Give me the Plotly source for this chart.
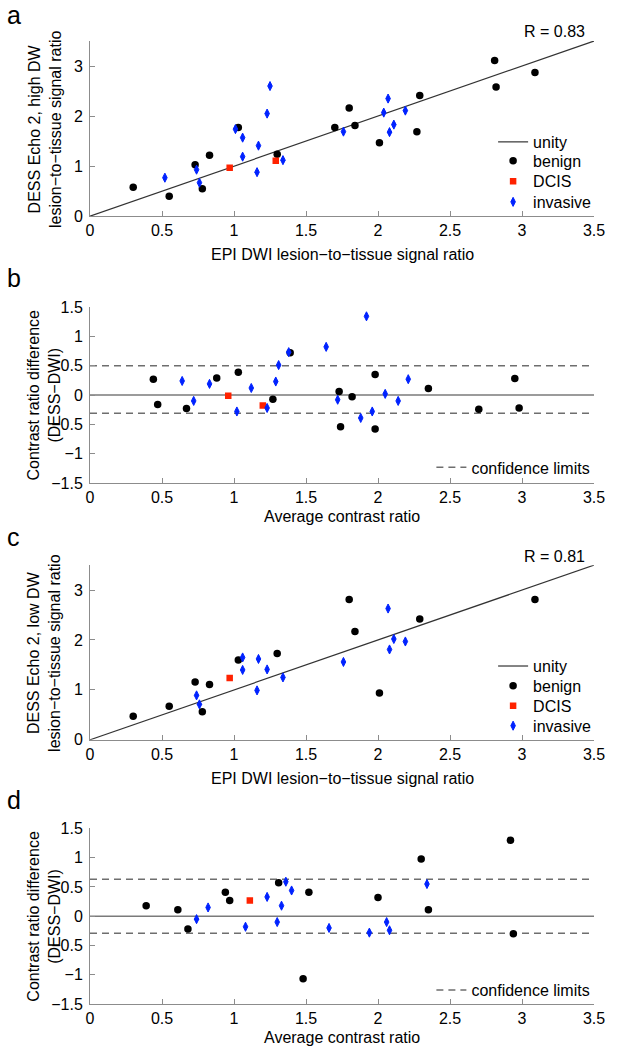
import plotly.graph_objects as go

# ---------------- data ----------------
x_ticks = [0, 0.5, 1, 1.5, 2, 2.5, 3, 3.5]

# panel a : DESS echo 2 high DW vs EPI DWI
a_benign_x = [0.30, 0.55, 0.73, 0.78, 0.83, 1.03, 1.30, 1.70, 1.80, 1.84, 2.01, 2.29, 2.27, 2.81, 2.82, 3.09]
a_benign_y = [0.58, 0.40, 1.03, 0.55, 1.22, 1.77, 1.24, 1.77, 2.16, 1.81, 1.47, 2.41, 1.69, 3.11, 2.58, 2.87]
a_dcis_x = [0.97, 1.29]
a_dcis_y = [0.97, 1.11]
a_inv_x = [0.52, 0.74, 0.76, 1.01, 1.06, 1.06, 1.17, 1.16, 1.23, 1.25, 1.34, 1.76, 2.04, 2.07, 2.08, 2.11, 2.19]
a_inv_y = [0.77, 0.93, 0.67, 1.74, 1.57, 1.19, 1.41, 0.88, 2.05, 2.60, 1.12, 1.69, 2.07, 2.35, 1.68, 1.83, 2.11]
a_r_text = "R = 0.83"

# panel b : Bland-Altman high DW
b_benign_x = [0.44, 0.47, 0.67, 0.88, 1.03, 1.27, 1.39, 1.73, 1.74, 1.82, 1.98, 1.98, 2.35, 2.70, 2.95, 2.98]
b_benign_y = [0.27, -0.16, -0.23, 0.29, 0.39, -0.07, 0.72, 0.06, -0.54, -0.03, 0.35, -0.58, 0.11, -0.24, 0.28, -0.22]
b_dcis_x = [0.96, 1.20]
b_dcis_y = [-0.01, -0.18]
b_inv_x = [0.64, 0.72, 0.83, 1.02, 1.12, 1.23, 1.29, 1.31, 1.38, 1.64, 1.72, 1.88, 1.92, 1.96, 2.05, 2.14, 2.21]
b_inv_y = [0.24, -0.10, 0.19, -0.28, 0.12, -0.22, 0.23, 0.51, 0.73, 0.82, -0.08, -0.39, 1.34, -0.28, 0.02, -0.10, 0.27]
b_limits = [0.50, -0.31]

# panel c : DESS echo 2 low DW vs EPI DWI
c_benign_x = [0.30, 0.55, 0.73, 0.78, 0.83, 1.03, 1.30, 1.80, 1.84, 2.01, 2.29, 3.09]
c_benign_y = [0.47, 0.67, 1.16, 0.56, 1.11, 1.60, 1.73, 2.81, 2.17, 0.94, 2.42, 2.81]
c_dcis_x = [0.97]
c_dcis_y = [1.24]
c_inv_x = [0.74, 0.76, 1.06, 1.06, 1.17, 1.16, 1.23, 1.34, 1.76, 2.07, 2.08, 2.11, 2.19]
c_inv_y = [0.89, 0.71, 1.65, 1.40, 1.62, 0.99, 1.41, 1.25, 1.56, 2.63, 1.81, 2.02, 1.97]
c_r_text = "R = 0.81"

# panel d : Bland-Altman low DW
d_benign_x = [0.39, 0.61, 0.68, 0.94, 0.97, 1.31, 1.48, 1.52, 2.00, 2.30, 2.35, 2.92, 2.94]
d_benign_y = [0.18, 0.11, -0.22, 0.41, 0.27, 0.57, -1.07, 0.41, 0.32, 0.98, 0.11, 1.30, -0.30]
d_dcis_x = [1.11]
d_dcis_y = [0.27]
d_inv_x = [0.74, 0.82, 1.08, 1.23, 1.30, 1.33, 1.36, 1.40, 1.66, 1.94, 2.06, 2.08, 2.34]
d_inv_y = [-0.05, 0.15, -0.18, 0.33, -0.10, 0.18, 0.59, 0.44, -0.20, -0.28, -0.10, -0.24, 0.55]
d_limits = [0.63, -0.29]

unity_x = [0, 3.5]
unity_y = [0, 3.5]

# ---------------- layout helpers ----------------
W, H = 617, 1050
ML, MR, MT, MB = 89.5, 13, 40.7, 46
PW = W - ML - MR
PH = H - MT - MB
FONT = "Liberation Sans, Arial, Helvetica, sans-serif"
AX = "#8c8c8c"


def fx(p):
    return (p - ML) / PW


def fy(p):
    return (H - MB - p) / PH


panel_px = [(40.7, 216), (306.7, 483), (565, 739.7), (828.4, 1004)]

fig = go.Figure()

leg_count = [0]
legends = {}


def new_legend(xpix, ypix):
    leg_count[0] += 1
    name = "legend" if leg_count[0] == 1 else f"legend{leg_count[0]}"
    legends[name] = dict(x=fx(xpix), y=fy(ypix), xanchor="left", yanchor="middle",
                         bgcolor="rgba(0,0,0,0)", borderwidth=0,
                         font=dict(family=FONT, size=16, color="black"),
                         itemwidth=30)
    return name


def scatter_panel(i, bx, by, dx, dy, ix, iy, leg_rows):
    xa = "x" if i == 1 else f"x{i}"
    ya = "y" if i == 1 else f"y{i}"
    fig.add_trace(go.Scatter(x=unity_x, y=unity_y, mode="lines", name="unity",
                             line=dict(color="#333333", width=1.2),
                             xaxis=xa, yaxis=ya, legend=new_legend(501, leg_rows[0])))
    fig.add_trace(go.Scatter(x=bx, y=by, mode="markers", name="benign",
                             marker=dict(symbol="circle", size=7.5, color="black"),
                             xaxis=xa, yaxis=ya, legend=new_legend(501, leg_rows[1])))
    fig.add_trace(go.Scatter(x=dx, y=dy, mode="markers", name="DCIS",
                             marker=dict(symbol="square", size=6.5, color="#ff2200"),
                             xaxis=xa, yaxis=ya, legend=new_legend(501, leg_rows[2])))
    fig.add_trace(go.Scatter(x=ix, y=iy, mode="markers", name="invasive",
                             marker=dict(symbol="diamond-tall", size=6.5, color="#0022ff",
                                         line=dict(color="#0022ff", width=1)),
                             xaxis=xa, yaxis=ya, legend=new_legend(501, leg_rows[3])))


def ba_panel(i, bx, by, dx, dy, ix, iy, limits, leg_row):
    xa = f"x{i}"
    ya = f"y{i}"
    fig.add_trace(go.Scatter(x=unity_x, y=[0, 0], mode="lines", showlegend=False,
                             line=dict(color="#7a7a7a", width=1.5), xaxis=xa, yaxis=ya))
    fig.add_trace(go.Scatter(x=[0, 3.5, None, 0, 3.5],
                             y=[limits[0], limits[0], None, limits[1], limits[1]],
                             mode="lines", name="confidence limits",
                             line=dict(color="#6e6e6e", width=1.5, dash="7px,5px"),
                             xaxis=xa, yaxis=ya, legend=new_legend(438, leg_row)))
    fig.add_trace(go.Scatter(x=bx, y=by, mode="markers", showlegend=False,
                             marker=dict(symbol="circle", size=7.5, color="black"),
                             xaxis=xa, yaxis=ya))
    fig.add_trace(go.Scatter(x=dx, y=dy, mode="markers", showlegend=False,
                             marker=dict(symbol="square", size=6.5, color="#ff2200"),
                             xaxis=xa, yaxis=ya))
    fig.add_trace(go.Scatter(x=ix, y=iy, mode="markers", showlegend=False,
                             marker=dict(symbol="diamond-tall", size=6.5, color="#0022ff",
                                         line=dict(color="#0022ff", width=1)),
                             xaxis=xa, yaxis=ya))


scatter_panel(1, a_benign_x, a_benign_y, a_dcis_x, a_dcis_y, a_inv_x, a_inv_y,
              [141.7, 160.5, 181, 201.7])
ba_panel(2, b_benign_x, b_benign_y, b_dcis_x, b_dcis_y, b_inv_x, b_inv_y, b_limits, 467.3)
scatter_panel(3, c_benign_x, c_benign_y, c_dcis_x, c_dcis_y, c_inv_x, c_inv_y,
              [666, 685.7, 705.7, 725.7])
ba_panel(4, d_benign_x, d_benign_y, d_dcis_x, d_dcis_y, d_inv_x, d_inv_y, d_limits, 990)

layout = dict(width=W, height=H, margin=dict(l=ML, r=MR, t=MT, b=MB),
              paper_bgcolor="white", plot_bgcolor="white",
              font=dict(family=FONT, size=16, color="black"),
              hovermode=False)

for i, (top, bot) in enumerate(panel_px, start=1):
    xk = "xaxis" if i == 1 else f"xaxis{i}"
    yk = "yaxis" if i == 1 else f"yaxis{i}"
    yanchor = "y" if i == 1 else f"y{i}"
    xanchor = "x" if i == 1 else f"x{i}"
    common = dict(ticks="inside", ticklen=5, tickcolor=AX, tickwidth=1,
                  showline=True, linecolor=AX, linewidth=1, mirror=False,
                  showgrid=False, zeroline=False,
                  tickfont=dict(family=FONT, size=16, color="black"))
    layout[xk] = dict(common, range=[0, 3.5], tickvals=x_ticks, domain=[0, 1],
                      anchor=yanchor)
    if i in (1, 3):
        layout[yk] = dict(common, range=[0, 3.5], tickvals=[0, 1, 2, 3],
                          domain=[fy(bot), fy(top)], anchor=xanchor,
                          ticklabelstandoff=3)
    else:
        layout[yk] = dict(common, range=[-1.5, 1.5],
                          tickvals=[-1.5, -1, -0.5, 0, 0.5, 1, 1.5],
                          domain=[fy(bot), fy(top)], anchor=xanchor,
                          ticklabelstandoff=3)

layout.update(legends)

annotations = []
labels = ["a", "b", "c", "d"]
label_y = [15, 277.5, 536.5, 799.5]
for lab, ly in zip(labels, label_y):
    annotations.append(dict(text=lab, xref="paper", yref="paper", x=fx(3), y=fy(ly),
                            xanchor="left", yanchor="middle", showarrow=False,
                            font=dict(family=FONT, size=25, color="black")))

ytitles = ["DESS Echo 2, high DW<br>lesion−to−tissue signal ratio",
           "Contrast ratio difference<br>(DESS−DWI)",
           "DESS Echo 2, low DW<br>lesion−to−tissue signal ratio",
           "Contrast ratio difference<br>(DESS−DWI)"]
xtitles = ["EPI DWI lesion−to−tissue signal ratio", "Average contrast ratio",
           "EPI DWI lesion−to−tissue signal ratio", "Average contrast ratio"]
xtitle_y = [254, 516, 778, 1038]
for (top, bot), yt, xt, xty in zip(panel_px, ytitles, xtitles, xtitle_y):
    annotations.append(dict(text=yt, xref="paper", yref="paper", x=fx(43),
                            y=fy((top + bot) / 2), xanchor="center", yanchor="middle",
                            textangle=-90, showarrow=False,
                            font=dict(family=FONT, size=16, color="black")))
    annotations.append(dict(text=xt, xref="paper", yref="paper", x=0.5, y=fy(xty),
                            xanchor="center", yanchor="middle", showarrow=False,
                            borderpad=0,
                            font=dict(family=FONT, size=16, color="black")))

annotations.append(dict(text=a_r_text, xref="paper", yref="paper", x=fx(530), y=fy(31),
                        xanchor="left", yanchor="middle", showarrow=False,
                        font=dict(family=FONT, size=16, color="black")))
annotations.append(dict(text=c_r_text, xref="paper", yref="paper", x=fx(530), y=fy(556),
                        xanchor="left", yanchor="middle", showarrow=False,
                        font=dict(family=FONT, size=16, color="black")))
layout["annotations"] = annotations

fig.update_layout(**layout)
# remove the browser's default 8px body margin so the figure sits at the page origin
fig.write_html("out.html",
               config={"displayModeBar": False, "staticPlot": True},
               post_script="document.body.style.margin='0';document.body.style.overflow='hidden';")
